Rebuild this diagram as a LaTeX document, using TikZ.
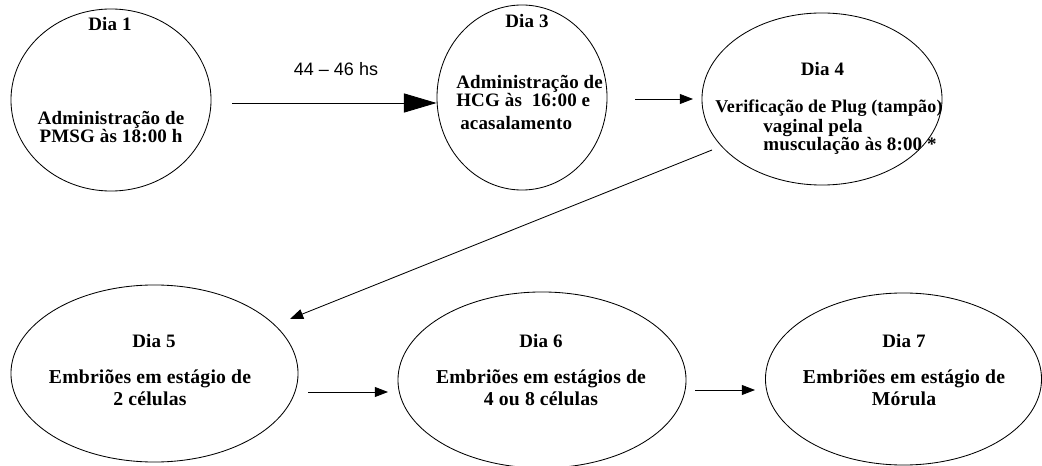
\documentclass[tikz,border=0pt]{standalone}
\usepackage{fontspec}
\setmainfont{Liberation Serif}[LetterSpace=1]
\newfontfamily\hsfont{Liberation Sans}
\usetikzlibrary{shapes.geometric,arrows.meta,positioning}

\tikzset{
	stage/.style={draw, ellipse, line width=0.6pt, inner sep=0pt},
	txt/.style={font=\bfseries\fontsize{13.5}{15}\selectfont, inner sep=0pt, align=center},
	arr/.style={-{Triangle[length=0.33cm,width=0.25cm]}, line width=0.6pt},
	bigarr/.style={-{Triangle[length=0.82cm,width=0.48cm]}, line width=0.6pt}
}

\begin{document}
\begin{tikzpicture}[x=0.025cm, y=-0.025cm]
			%%%%% START %%%%%
			\useasboundingbox (0,0) rectangle (1042,466);
			
			\node[stage, minimum width=5cm, minimum height=4.55cm] (dia1) at (111,100) {};
			\node[stage, minimum width=4.25cm, minimum height=4.625cm] (dia3) at (522,97.5) {};
			\node[stage, minimum width=6cm, minimum height=4.3cm] (dia4) at (822,99) {};
			
			\node[stage, minimum width=7.175cm, minimum height=4.425cm] (dia5) at (154.5,373.5) {};
			\node[stage, minimum width=7.2cm, minimum height=4.4cm] (dia6) at (542,380) {};
			\node[stage, minimum width=6.9cm, minimum height=4.3cm] (dia7) at (903.5,379) {};
			
			% multi-line nodes: base is the last line
			\node[txt, anchor=base] (t1a) at (110,31) {Dia 1};
			\node[txt, anchor=base, font=\bfseries\fontsize{13.5}{9.8}\selectfont] (t1b) at (111,143) {Administração de\\PMSG às 18:00 h};
			
			\node[txt, anchor=base] (t3a) at (527,28) {Dia 3};
			\node[txt, anchor=base west, align=left, font=\bfseries\fontsize{13.5}{11.4}\selectfont] (t3b) at (456,107) {Administração de\\HCG às\ \ 16:00 e};
			\node[txt, anchor=base west] (t3c) at (460,130) {acasalamento};
			
			\node[txt, anchor=base] (t4a) at (822.5,76) {Dia 4};
			\node[txt, anchor=base, font=\bfseries\fontsize{12.8}{15}\selectfont] (t4b) at (829,113) {Verificação de Plug (tampão)};
			\node[txt, anchor=base west, align=left, font=\bfseries\fontsize{13.5}{12}\selectfont] (t4c) at (763,151) {vaginal pela\\musculação às 8:00 *};
			
			\node[txt, anchor=base] (t5a) at (154,347) {Dia 5};
			\node[txt, anchor=base, font=\bfseries\fontsize{14}{15}\selectfont] (t5b) at (150,405) {Embriões em estágio de\\2 células};
			\node[txt, anchor=base] (t6a) at (541,347) {Dia 6};
			\node[txt, anchor=base, font=\bfseries\fontsize{14}{15}\selectfont] (t6b) at (541,405) {Embriões em estágios de\\4 ou 8 células};
			\node[txt, anchor=base] (t7a) at (904,347) {Dia 7};
			\node[txt, anchor=base, font=\bfseries\fontsize{14}{15}\selectfont] (t7b) at (904,405) {Embriões em estágio de\\Mórula};
			
			\node[font=\hsfont\fontsize{12.8}{14}\selectfont, anchor=base, inner sep=0pt] (hs) at (336,76) {44 – 46 hs};
			
			\coordinate (a1s) at (232,103);
			\coordinate (a2s) at (635,99);
			\coordinate (a2e) at (693,99);
			\coordinate (a3s) at (712,150);
			\coordinate (a3e) at (290,319);
			\coordinate (a4s) at (308,392);
			\coordinate (a4e) at (388,392);
			\coordinate (a5s) at (695,390);
			\coordinate (a5e) at (755,390);
			
			\draw[bigarr] (a1s) -- (dia3.west |- a1s);
			\draw[arr] (a2s) -- (a2e);
			\draw[arr] (a3s) -- (a3e);
			\draw[arr] (a4s) -- (a4e);
			\draw[arr] (a5s) -- (a5e);
			
			%%%%% END %%%%%
\end{tikzpicture}
\end{document}
